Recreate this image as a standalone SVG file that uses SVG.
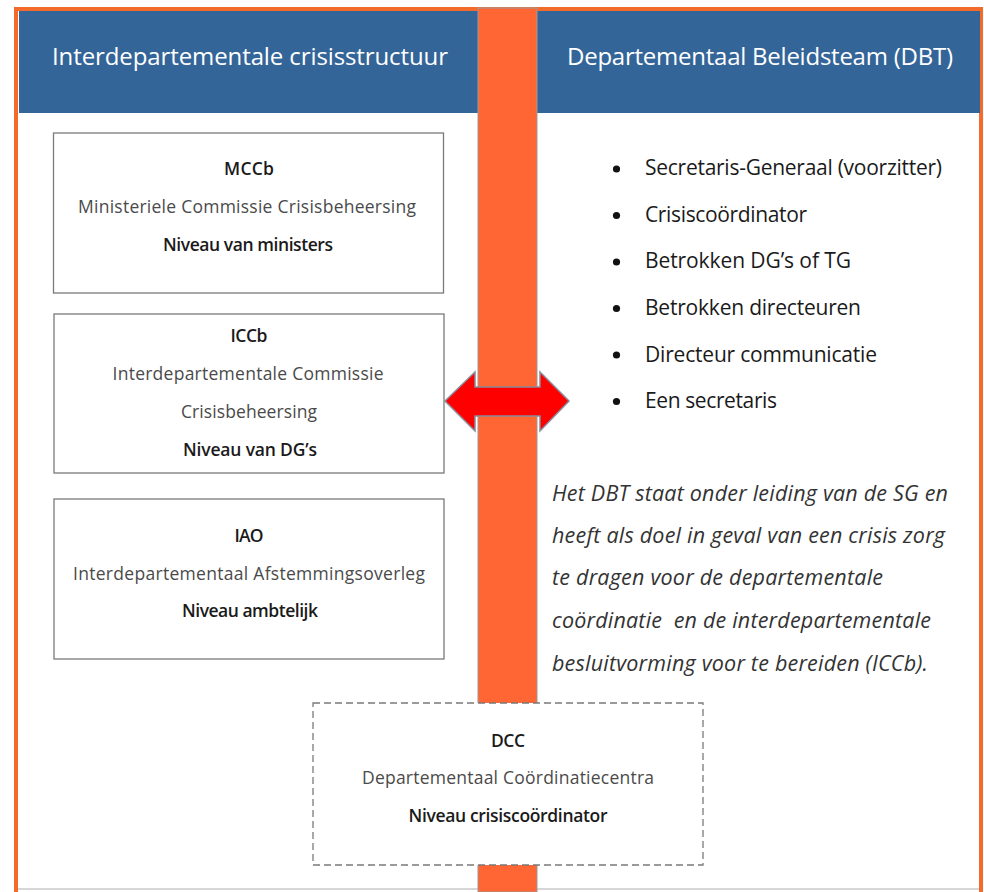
<svg xmlns="http://www.w3.org/2000/svg" width="984" height="892" viewBox="0 0 984 892">
  <style>
    .hdr { fill: #346599; }
    .hdrtxt { font-family: "Open Sans", "Liberation Sans", sans-serif; font-size: 24px; fill: #ffffff; }
    .box { fill: #ffffff; stroke: #7a7a7a; stroke-width: 1.3; }
    .dash { fill: #ffffff; stroke: #7a7a7a; stroke-width: 1.3; stroke-dasharray: 7 4; }
    .t { font-family: "Open Sans", "Liberation Sans", sans-serif; font-size: 17.5px; text-anchor: middle; }
    .b { font-weight: 600; fill: #1a1a1a; }
    .m { font-weight: 400; fill: #4a4a4a; }
    .li { font-family: "Open Sans", "Liberation Sans", sans-serif; font-size: 21px; fill: #1a1a1a; }
    .it { font-family: "Open Sans", "Liberation Sans", sans-serif; font-size: 21.5px; font-style: italic; fill: #333333; }
  </style>

  <rect x="0" y="0" width="984" height="892" fill="#ffffff"/>

  <!-- outer frame -->
  <g id="frame">
    <line x1="16" y1="889" x2="981" y2="889" stroke="#c8c8c8" stroke-width="1.5"/>
    <polyline points="16,892 16,9 981,9 981,892" fill="none" stroke="#F26B2A" stroke-width="4"/>
  </g>

  <!-- headers -->
  <g id="header-left">
    <rect class="hdr" x="19" y="11" width="459" height="102"/>
    <text class="hdrtxt" x="52" y="65" textLength="396">Interdepartementale crisisstructuur</text>
  </g>
  <g id="header-right">
    <rect class="hdr" x="537" y="11" width="443" height="102"/>
    <text class="hdrtxt" x="567" y="65" textLength="386">Departementaal Beleidsteam (DBT)</text>
  </g>

  <!-- orange vertical bar -->
  <g id="bar">
    <rect x="478" y="8" width="59" height="884" fill="#FF6633" stroke="#9a9a9a" stroke-width="1"/>
  </g>

  <!-- left nodes -->
  <g id="mccb">
    <rect class="box" x="53.5" y="133" width="390" height="160"/>
    <text class="t b" x="249" y="175" textLength="50">MCCb</text>
    <text class="t m" x="247" y="213" textLength="338">Ministeriele Commissie Crisisbeheersing</text>
    <text class="t b" x="248" y="251" textLength="170">Niveau van ministers</text>
  </g>

  <g id="iccb">
    <rect class="box" x="54" y="314" width="390" height="159"/>
    <text class="t b" x="249" y="342" textLength="37">ICCb</text>
    <text class="t m" x="248" y="380" textLength="271">Interdepartementale Commissie</text>
    <text class="t m" x="249" y="418" textLength="136">Crisisbeheersing</text>
    <text class="t b" x="250" y="456" textLength="134">Niveau van DG’s</text>
  </g>

  <g id="iao">
    <rect class="box" x="54" y="499" width="390" height="160"/>
    <text class="t b" x="249" y="542" textLength="29">IAO</text>
    <text class="t m" x="249" y="580" textLength="352">Interdepartementaal Afstemmingsoverleg</text>
    <text class="t b" x="250" y="617" textLength="136">Niveau ambtelijk</text>
  </g>

  <g id="dcc">
    <rect class="dash" x="313" y="703" width="390" height="162"/>
    <text class="t b" x="508" y="747" textLength="34">DCC</text>
    <text class="t m" x="508" y="784" textLength="292">Departementaal Coördinatiecentra</text>
    <text class="t b" x="508" y="822" textLength="199">Niveau crisiscoördinator</text>
  </g>

  <!-- right: DBT members -->
  <g id="dbt-list">
    <circle cx="616.5" cy="169" r="3.6" fill="#111"/>
    <text class="li" x="645" y="175" textLength="297">Secretaris-Generaal (voorzitter)</text>
    <circle cx="616.5" cy="215.5" r="3.6" fill="#111"/>
    <text class="li" x="645" y="222" textLength="162">Crisiscoördinator</text>
    <circle cx="616.5" cy="262" r="3.6" fill="#111"/>
    <text class="li" x="645" y="268" textLength="206">Betrokken DG’s of TG</text>
    <circle cx="616.5" cy="308.5" r="3.6" fill="#111"/>
    <text class="li" x="645" y="315" textLength="216">Betrokken directeuren</text>
    <circle cx="616.5" cy="355" r="3.6" fill="#111"/>
    <text class="li" x="645" y="362" textLength="232">Directeur communicatie</text>
    <circle cx="616.5" cy="401.5" r="3.6" fill="#111"/>
    <text class="li" x="645" y="408" textLength="132">Een secretaris</text>
  </g>

  <g id="dbt-text">
    <text class="it" x="552" y="501" textLength="396">Het DBT staat onder leiding van de SG en</text>
    <text class="it" x="552" y="543" textLength="393">heeft als doel in geval van een crisis zorg</text>
    <text class="it" x="552" y="585" textLength="331">te dragen voor de departementale</text>
    <text class="it" x="552" y="628" textLength="379" xml:space="preserve">coördinatie  en de interdepartementale</text>
    <text class="it" x="552" y="671" textLength="376">besluitvorming voor te bereiden (ICCb).</text>
  </g>

  <!-- connectors -->
  <g id="connectors">
    <polygon points="445,401 475,372 475,387 540,387 540,372 569,401 540,431 540,416 475,416 475,431" fill="#FF0000" stroke="#8a8a9a" stroke-width="1.5" stroke-linejoin="miter"/>
  </g>
</svg>
